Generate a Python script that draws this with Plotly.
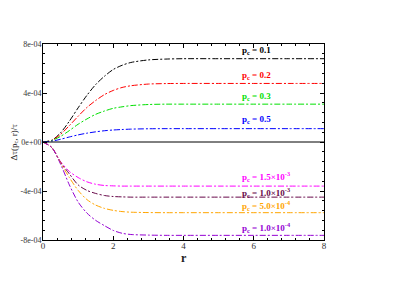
import plotly.graph_objects as go

r = [0, 0.25, 0.5, 0.75, 1, 1.25, 1.5, 1.75, 2, 2.25, 2.5, 3, 3.5, 4, 5, 6, 7, 8]

# values in units of 1e-4
pc_0p1 = [0, 0.14, 0.75, 1.70, 2.79, 3.81, 4.69, 5.37, 5.92, 6.26, 6.49, 6.70, 6.77, 6.80, 6.80, 6.80, 6.80, 6.80]
pc_0p2 = [0, 0.14, 0.62, 1.34, 2.10, 2.82, 3.39, 3.87, 4.21, 4.45, 4.59, 4.73, 4.77, 4.78, 4.78, 4.78, 4.78, 4.78]
pc_0p3 = [0, 0.12, 0.46, 0.93, 1.45, 1.88, 2.26, 2.53, 2.75, 2.87, 2.97, 3.06, 3.09, 3.09, 3.09, 3.09, 3.09, 3.09]
pc_0p5 = [0, 0.07, 0.22, 0.41, 0.58, 0.72, 0.83, 0.92, 0.98, 1.02, 1.05, 1.08, 1.09, 1.09, 1.09, 1.09, 1.09, 1.09]
pc_1p5em3 = [0, -0.45, -1.60, -2.40, -2.90, -3.25, -3.45, -3.55, -3.58, -3.60, -3.60, -3.60, -3.60, -3.60, -3.60, -3.60, -3.60, -3.60]
pc_1p0em3 = [0, -0.45, -1.65, -2.60, -3.50, -3.95, -4.20, -4.37, -4.45, -4.48, -4.50, -4.50, -4.50, -4.50, -4.50, -4.50, -4.50, -4.50]
pc_5p0em4 = [0, -0.45, -1.70, -2.90, -3.95, -4.70, -5.15, -5.42, -5.58, -5.68, -5.73, -5.76, -5.77, -5.77, -5.77, -5.77, -5.77, -5.77]
pc_1p0em4 = [0, -0.45, -1.80, -3.50, -4.90, -5.80, -6.40, -6.83, -7.22, -7.45, -7.55, -7.60, -7.62, -7.62, -7.62, -7.62, -7.62, -7.62]

series = [
    (pc_0p1, "#000000", "p<sub>c</sub> = 0.1", 7.45),
    (pc_0p2, "#ff0000", "p<sub>c</sub> = 0.2", 5.45),
    (pc_0p3, "#00e000", "p<sub>c</sub> = 0.3", 3.7),
    (pc_0p5, "#0000ff", "p<sub>c</sub> = 0.5", 1.8),
    (pc_1p5em3, "#ff00ff", "p<sub>c</sub> = 1.5×10<sup>-3</sup>", -2.85),
    (pc_1p0em3, "#670748", "p<sub>c</sub> = 1.0×10<sup>-3</sup>", -4.1),
    (pc_5p0em4, "#ffa500", "p<sub>c</sub> = 5.0×10<sup>-4</sup>", -5.2),
    (pc_1p0em4, "#9400d3", "p<sub>c</sub> = 1.0×10<sup>-4</sup>", -7.0),
]

ytick_vals = [-8e-4, -4e-4, 0, 4e-4, 8e-4]
ytick_text = ["-8e-04", "-4e-04", "0e+00", "4e-04", "8e-04"]
xtick_vals = [0, 2, 4, 6, 8]

fig = go.Figure()
for vals, color, label, ypos in series:
    fig.add_trace(go.Scatter(
        x=r, y=[v * 1e-4 for v in vals], mode="lines",
        line=dict(color=color, width=1, dash="6px,2px,2px,2px", shape="spline", smoothing=0.8),
        showlegend=False, hoverinfo="skip"))
    fig.add_annotation(x=5.6, y=ypos * 1e-4, text="<b>" + label + "</b>", showarrow=False,
                       xanchor="left", yanchor="middle",
                       font=dict(family="Liberation Serif", size=9, color=color))

fig.add_shape(type="line", xref="x", yref="y", x0=0, x1=8, y0=0, y1=0,
              line=dict(color="black", width=1))

# axis titles
fig.add_annotation(x=4, y=0, xref="x", yref="paper", yanchor="top", yshift=-9,
                   text="<b>r</b>", showarrow=False,
                   font=dict(family="Liberation Serif", size=12, color="#222222"))
fig.add_annotation(x=0, y=0.5, xref="paper", yref="paper", xanchor="left", yanchor="middle",
                   xshift=-37, textangle=-90, text="Δτ(p<sub>c</sub>, r)/τ", showarrow=False,
                   font=dict(family="Liberation Serif", size=9, color="#222222"))

tickfont = dict(family="Liberation Serif", size=8, color="#333333")
fig.update_layout(
    width=398, height=281,
    margin=dict(l=35, r=82, t=36, b=49),
    paper_bgcolor="white", plot_bgcolor="white",
    font=tickfont,
    xaxis=dict(range=[0, 8], tickvals=xtick_vals, ticks="inside", ticklen=4, automargin=False,
               tickfont=dict(family="Liberation Serif", size=9, color="#333333"),
               tickcolor="black", showline=True, linecolor="black", linewidth=1,
               mirror="allticks", showgrid=False, zeroline=False, ticklabelstandoff=-3,
               minor=dict(dtick=0.4, ticks="inside", ticklen=2, tickcolor="black")),
    yaxis=dict(range=[-8e-4, 8e-4], tickvals=ytick_vals, ticktext=ytick_text, ticks="inside", ticklen=4,
               automargin=False, tickfont=tickfont, ticklabelstandoff=-1,
               tickcolor="black", showline=True, linecolor="black", linewidth=1,
               mirror="allticks", showgrid=False, zeroline=False,
               minor=dict(dtick=0.8e-4, tick0=0, ticks="inside", ticklen=2, tickcolor="black")),
)

fig.write_html("out.html")
